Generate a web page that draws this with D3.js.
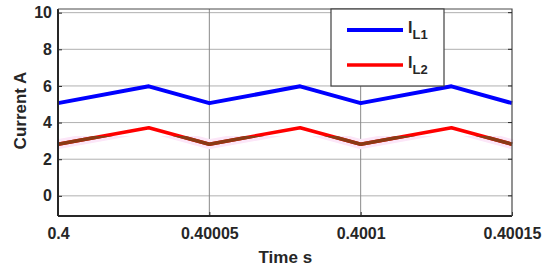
<!DOCTYPE html>
<html>
<head>
<meta charset="utf-8">
<script src="https://cdn.jsdelivr.net/npm/d3@7"></script>
<style>
  body { margin: 0; background: #fff; }
  svg text { font-family: "Liberation Sans", Arial, sans-serif; font-weight: bold; fill: #262626; }
</style>
</head>
<body>
<div id="chart"></div>
<script>
// inductor currents over three switching periods
const time = [0.4, 0.40003, 0.40005, 0.40008, 0.4001, 0.40013, 0.40015];
const iL1 = [5.06, 5.98, 5.06, 5.98, 5.06, 5.98, 5.06];
const iL2 = [2.82, 3.72, 2.82, 3.72, 2.82, 3.72, 2.82];
const xTicks = [0.4, 0.40005, 0.4001, 0.40015];
const xTickLabels = ['0.4', '0.40005', '0.4001', '0.40015'];
const yTicks = [0, 2, 4, 6, 8, 10];

const W = 550, H = 272;
const m = { left: 58, right: 38, top: 9, bottom: 56 };

const svg = d3.select('#chart').append('svg').attr('width', W).attr('height', H);

const x = d3.scaleLinear().domain([0.4, 0.40015]).range([m.left, W - m.right]);
const y = d3.scaleLinear().domain([-1.1, 10.2]).range([H - m.bottom, m.top]);

const g = svg.append('g');

// grid
g.append('g').selectAll('line').data(yTicks).join('line')
  .attr('x1', m.left).attr('x2', W - m.right)
  .attr('y1', d => y(d)).attr('y2', d => y(d))
  .attr('stroke', '#b0b0b0').attr('stroke-width', 1);
g.append('g').selectAll('line').data(xTicks.slice(1, -1)).join('line')
  .attr('x1', d => x(d)).attr('x2', d => x(d))
  .attr('y1', m.top).attr('y2', H - m.bottom)
  .attr('stroke', '#8a8a8a').attr('stroke-width', 1);

const line = (vals) => d3.line().x((d, i) => x(time[i])).y(d => y(d))(vals);

// region where IL2 sits low (overlapping traces show as brown)
svg.append('clipPath').attr('id', 'low')
  .append('rect').attr('x', m.left - 10).attr('width', W)
  .attr('y', y(3.27)).attr('height', 40);

g.append('path').attr('d', line(iL2)).attr('fill', 'none')
  .attr('stroke', '#fce6f8').attr('stroke-width', 10).attr('clip-path', 'url(#low)');

g.append('path').attr('d', line(iL1)).attr('fill', 'none')
  .attr('stroke', '#0000ff').attr('stroke-width', 4).attr('stroke-linejoin', 'round');
g.append('path').attr('d', line(iL2)).attr('fill', 'none')
  .attr('stroke', '#ff0000').attr('stroke-width', 3.5).attr('stroke-linejoin', 'round');
g.append('path').attr('d', line(iL2)).attr('fill', 'none')
  .attr('stroke', '#8a3a14').attr('stroke-width', 3.5).attr('stroke-linejoin', 'round')
  .attr('clip-path', 'url(#low)');

// axes
const xAxis = svg.append('g').attr('transform', `translate(0,${H - m.bottom})`)
  .call(d3.axisBottom(x).tickValues(xTicks).tickFormat((d, i) => xTickLabels[i]).tickSize(-4).tickPadding(12));
const yAxis = svg.append('g').attr('transform', `translate(${m.left},0)`)
  .call(d3.axisLeft(y).tickValues(yTicks).tickSize(-4).tickPadding(6));
[xAxis, yAxis].forEach(a => {
  a.select('.domain').attr('stroke', '#262626').attr('stroke-width', 2);
  a.selectAll('.tick line').attr('stroke', '#262626');
  a.selectAll('text').style('font-size', '16px').attr('fill', '#262626');
});
yAxis.select('.domain').attr('d', `M0,${m.top}V${H - m.bottom}`);
xAxis.select('.domain').attr('d', `M${m.left},0H${W - m.right}`);

// top and right frame with inward ticks
svg.append('path')
  .attr('d', `M${m.left},${m.top}H${W - m.right}V${H - m.bottom}`)
  .attr('fill', 'none').attr('stroke', '#4a4a4a').attr('stroke-width', 1.2);
svg.append('g').selectAll('line').data(yTicks).join('line')
  .attr('x1', W - m.right).attr('x2', W - m.right - 4)
  .attr('y1', d => y(d)).attr('y2', d => y(d)).attr('stroke', '#262626');

// axis titles
svg.append('text').attr('x', x(0.40005) + 76).attr('y', 263)
  .attr('text-anchor', 'middle').style('font-size', '17px').text('Time s');
svg.append('text').attr('transform', `translate(26,${(m.top + H - m.bottom) / 2 - 2}) rotate(-90)`)
  .attr('text-anchor', 'middle').style('font-size', '17px').text('Current A');

// legend
const series = [
  { name: 'L1', color: '#0000ff', w: 4 },
  { name: 'L2', color: '#ff0000', w: 3.5 }
];
const lg = svg.append('g').attr('transform', `translate(331,${m.top})`);
lg.append('rect').attr('width', 113).attr('height', 77)
  .attr('fill', '#fff').attr('stroke', '#404040').attr('stroke-width', 1.2);
const item = lg.selectAll('g.item').data(series).join('g').attr('class', 'item')
  .attr('transform', (d, i) => `translate(0,${21 + i * 35})`);
item.append('line').attr('x1', 16).attr('x2', 72)
  .attr('stroke', d => d.color).attr('stroke-width', d => d.w);
const t = item.append('text').attr('x', 77).attr('y', 3).style('font-size', '16px');
t.append('tspan').text('I');
t.append('tspan').attr('dy', 6).style('font-size', '13px').text(d => d.name);
</script>
</body>
</html>
